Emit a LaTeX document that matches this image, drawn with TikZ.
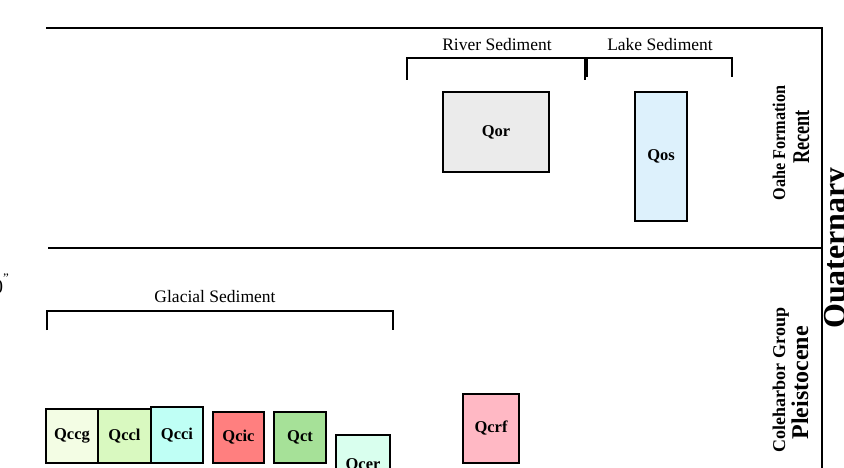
\documentclass[tikz,border=0pt]{standalone}
\usepackage{fontspec}
\setmainfont{Liberation Serif}

\definecolor{qorfill}{HTML}{EBEBEB}
\definecolor{qosfill}{HTML}{DDF1FC}
\definecolor{qccgfill}{HTML}{F3FDE4}
\definecolor{qcclfill}{HTML}{D9F9C0}
\definecolor{qccifill}{HTML}{BFFFF5}
\definecolor{qcicfill}{HTML}{FF7F7F}
\definecolor{qctfill}{HTML}{A6E198}
\definecolor{qcerfill}{HTML}{D9FFEE}
\definecolor{qcrffill}{HTML}{FFB8C4}

\begin{document}
\begin{tikzpicture}[x=1pt, y=-1pt,
    unit/.style={draw=black, line width=2pt, inner sep=0pt, font=\fontsize{16.5}{18}\selectfont\bfseries},
    rule/.style={line width=2pt},
    sedtext/.style={font=\fontsize{17.5}{20}\selectfont},
    sidetext/.style={rotate=90, anchor=base, inner sep=0pt}]
    \useasboundingbox (0,0) rectangle (844,468);
    \clip (0,0) rectangle (844,468);

    % frame
    \draw[rule] (46,28) -- (822,28) -- (822,475);
    \draw[rule] (48,248) -- (822,248);

    % Oahe Formation
    \node[sedtext] (river) at (497,45) {River Sediment};
    \node[sedtext] (lake) at (660,45) {Lake Sediment};
    \draw[rule] (407,80) -- (407,58) -- (585,58) -- (585,80);
    \draw[rule] (587,77) -- (587,58) -- (732,58) -- (732,77);
    \node[unit, fill=qorfill, minimum width=106pt, minimum height=80pt] (qor) at (496,132) {Qor};
    \node[unit, fill=qosfill, minimum width=52pt, minimum height=129pt] (qos) at (661,156.5) {Qos};

    % Coleharbor Group
    \node[sedtext] (glacial) at (215,297) {Glacial Sediment};
    \draw[rule] (47,330) -- (47,311) -- (393,311) -- (393,330);
    \node[unit, fill=qccgfill, minimum width=52pt, minimum height=54pt] (qccg) at (72,436) {Qccg};
    \node[unit, fill=qcclfill, minimum width=53pt, minimum height=54pt] (qccl) at (124.5,436) {Qccl};
    \node[unit, fill=qccifill, minimum width=52pt, minimum height=56pt] (qcci) at (177,435) {Qcci};
    \node[unit, fill=qcicfill, minimum width=51pt, minimum height=51pt] (qcic) at (238.5,437.5) {Qcic};
    \node[unit, fill=qctfill, minimum width=52pt, minimum height=51pt] (qct) at (300,437.5) {Qct};
    \node[unit, fill=qcerfill, minimum width=54pt, minimum height=60pt] (qcer) at (363,465) {Qcer};
    \node[unit, fill=qcrffill, minimum width=56pt, minimum height=69pt] (qcrf) at (491,428.5) {Qcrf};

    % side labels
    \node[sidetext, font=\fontsize{18}{20}\selectfont\bfseries] (oahe) at (785,143) {\scalebox{0.9}[1]{Oahe Formation}};
    \node[sidetext, font=\fontsize{24}{26}\selectfont\bfseries] (recent) at (809,137) {\scalebox{0.76}[1]{Recent}};
    \node[sidetext, font=\fontsize{18}{20}\selectfont\bfseries] (coleharbor) at (785,380) {Coleharbor Group};
    \node[sidetext, font=\fontsize{24}{26}\selectfont\bfseries] (pleistocene) at (808,383) {Pleistocene};
    \node[sidetext, font=\fontsize{32}{34}\selectfont\bfseries] (quaternary) at (845,248) {Quaternary};

    % cut-off label at the left edge
    \node[anchor=base east, inner sep=0pt, font=\fontsize{20}{22}\selectfont] (edge) at (9,293)
        {0\raisebox{11pt}{\fontsize{13}{13}\selectfont\char34}};
\end{tikzpicture}
\end{document}
